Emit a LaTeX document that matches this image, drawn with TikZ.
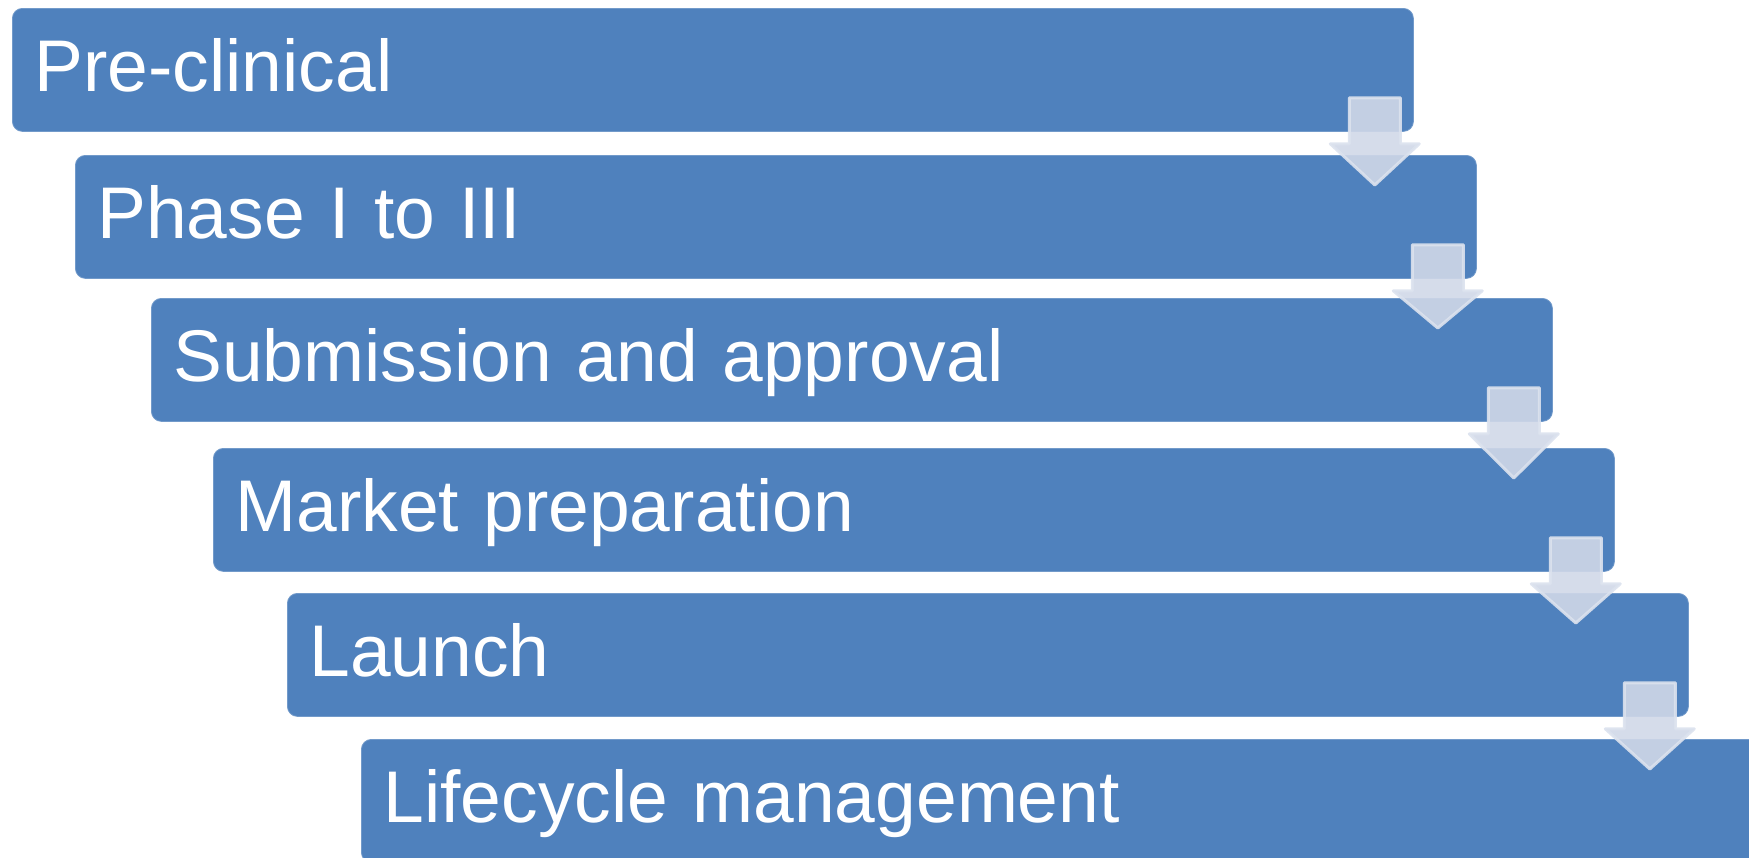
\documentclass[tikz,border=0pt]{standalone}
\usepackage{fontspec}
\setmainfont{Liberation Sans}
\usetikzlibrary{calc}

\definecolor{stageblue}{RGB}{79,129,189}
\definecolor{arrowgrey}{RGB}{208,216,232}
\newcommand{\stagefont}{\fontsize{36.6}{44}\selectfont\fontdimen2\font=0.22em\relax}

\begin{document}
\begin{tikzpicture}[x=0.5pt, y=-0.5pt, font=\stagefont]
	\tikzstyle{stage} = [fill=stageblue, draw=stageblue!80!white, line width=0.4pt, rounded corners=5pt, anchor=north west, text=white, text width=678.5pt, inner xsep=11pt, inner ysep=0pt, minimum height=61.5pt, text height=27pt, text depth=5.5pt]
	\tikzstyle{down} = [fill=arrowgrey, draw=arrowgrey!75!white, line width=1.5pt, line join=round, opacity=0.9]

	\useasboundingbox (0,0) rectangle (1749,857);
	\clip (0,0) rectangle (1749,857);

	\node[stage]	at (12, 8)		(pre)		{Pre-clinical};
	\node[stage]	at (75, 155)	(phase)		{Phase I to III};
	\node[stage]	at (151, 298)	(subm)		{Submission and approval};
	\node[stage]	at (213, 448)	(market)	{Market preparation};
	\node[stage]	at (287, 593)	(launch)	{Launch};
	\node[stage]	at (361, 739)	(life)		{Lifecycle management};

	% block arrows between the stages
	\foreach \a/\b in {pre/phase, phase/subm, subm/market, market/launch, launch/life}
		\draw[down] ($(\a.south east)+(-64.5,-34)$) -- ($(\a.south east)+(-13.5,-34)$)
			-- ($(\a.south east)+(-13.5,12)$) -- ($(\a.south east)+(5.5,12)$)
			-- ($(\a.south east |- \b.north)+(-39,30)$)
			-- ($(\a.south east)+(-83.5,12)$) -- ($(\a.south east)+(-64.5,12)$) -- cycle;
\end{tikzpicture}
\end{document}
